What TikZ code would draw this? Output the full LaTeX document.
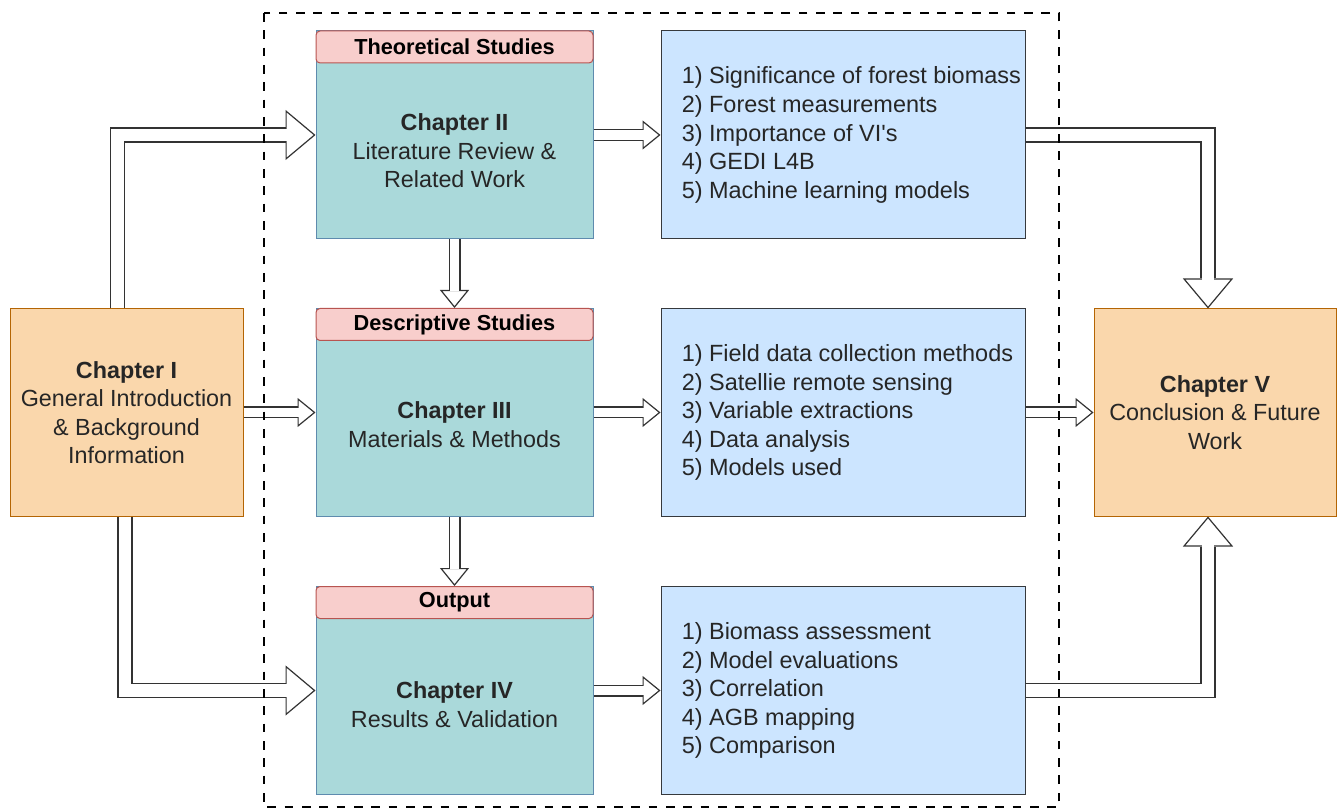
\documentclass[tikz,border=0pt]{standalone}
\usepackage{fontspec}
\setmainfont{Liberation Sans}
\usetikzlibrary{arrows.meta}
\usetikzlibrary{calc}
\usetikzlibrary{positioning}

\definecolor{orfill}{HTML}{FAD7AC}
\definecolor{ordraw}{HTML}{B46504}
\definecolor{tlfill}{HTML}{AAD9DA}
\definecolor{tldraw}{HTML}{5E8BAE}
\definecolor{pkfill}{HTML}{F8CECC}
\definecolor{pkdraw}{HTML}{B85450}
\definecolor{blfill}{HTML}{CCE5FF}
\definecolor{bldraw}{HTML}{36393D}
\definecolor{arr}{HTML}{333333}

\tikzset{
  chap/.style={draw=tldraw,fill=tlfill,line width=.75pt,minimum width=207.75pt,minimum height=156pt},
  hdr/.style={draw=pkdraw,fill=pkfill,line width=.75pt,rounded corners=3pt,minimum width=207.75pt,minimum height=24pt,anchor=north,font=\fontsize{16.3}{19}\selectfont\bfseries},
  side/.style={draw=ordraw,fill=orfill,line width=.75pt,minimum height=155.25pt},
  lst/.style={draw=bldraw,fill=blfill,line width=.75pt,minimum width=273pt,minimum height=156pt},
  txt/.style={align=center,text=black!85,font=\fontsize{17.5}{21.4}\selectfont},
  lsttxt/.style={align=left,anchor=west,inner sep=0pt,text=black!85,font=\fontsize{17.6}{21.4}\selectfont},
  bigflow/.style={draw=arr,line width=.9pt,-{Triangle[open,fill=white,length=22.5pt,width=37.5pt]},
    postaction={draw=arr,line width=11.4pt,arrows=-,shorten >=22.5pt},
    postaction={draw=white,line width=9.6pt,arrows=-,shorten >=21.5pt}},
  flow/.style={draw=arr,line width=.9pt,-{Triangle[open,fill=white,length=13.5pt,width=21.75pt]},
    postaction={draw=arr,line width=9pt,arrows=-,shorten >=13.5pt},
    postaction={draw=white,line width=7.2pt,arrows=-,shorten >=12.5pt}}
}

\begin{document}
\begin{tikzpicture}[x=0.75pt,y=-0.75pt]
\useasboundingbox (0,0) rectangle (1338,812);

% side chapters
\node[side,minimum width=174.75pt] (ch1) at (126.5,412.5) {};
\node[txt] (ch1t) at (ch1.center) {\textbf{Chapter I}\\General Introduction\\\& Background\\Information};
\node[side,minimum width=181.5pt] (ch5) at (1215,412.5) {};
\node[txt] (ch5t) at (ch5.center) {\textbf{Chapter V}\\Conclusion \& Future\\Work};

% middle chapters
\node[chap] (ch2) at (454.5,135) {};
\node[hdr] (h2) at (ch2.north) {Theoretical Studies};
\node[txt] (ch2t) at ($(ch2.center)+(0,16)$) {\textbf{Chapter II}\\Literature Review \&\\Related Work};

\node[chap] (ch3) at (454.5,412.5) {};
\node[hdr] (h3) at (ch3.north) {Descriptive Studies};
\node[txt] (ch3t) at ($(ch3.center)+(0,12)$) {\textbf{Chapter III}\\Materials \& Methods};

\node[chap] (ch4) at (454.5,690.5) {};
\node[hdr] (h4) at (ch4.north) {Output};
\node[txt] (ch4t) at ($(ch4.center)+(0,14)$) {\textbf{Chapter IV}\\Results \& Validation};

% lists
\node[lst] (l1) at (843,135) {};
\node[lsttxt] (l1t) at ($(l1.west)+(21,0)$) {1) Significance of forest biomass\\2) Forest measurements\\3) Importance of VI\textquotesingle s\\4) GEDI L4B\\5) Machine learning models};
\node[lst] (l2) at (843,412.5) {};
\node[lsttxt] (l2t) at ($(l2.west)+(21,0)$) {1) Field data collection methods\\2) Satellie remote sensing\\3) Variable extractions\\4) Data analysis\\5) Models used};
\node[lst] (l3) at (843,690.5) {};
\node[lsttxt] (l3t) at ($(l3.west)+(21,0)$) {1) Biomass assessment\\2) Model evaluations\\3) Correlation\\4) AGB mapping\\5) Comparison};

% arrows
\draw[bigflow] ($(ch1.north)+(-9,0)$) |- (ch2.west);
\draw[flow] (ch1.east) -- (ch3.west);
\draw[bigflow] ($(ch1.south)+(-1.5,0)$) |- (ch4.west);
\draw[flow] (ch2.east) -- (l1.west);
\draw[flow] (ch3.east) -- (l2.west);
\draw[flow] (ch4.east) -- (l3.west);
\draw[flow] (ch2.south) -- (h3.north);
\draw[flow] (ch3.south) -- (h4.north);
\draw[bigflow] (l1.east) -| ($(ch5.north)+(-7,0)$);
\draw[flow] (l2.east) -- (ch5.west);
\draw[bigflow] (l3.east) -| ($(ch5.south)+(-7,0)$);

% frame
\draw[line width=2.2pt,dash pattern=on 6.5pt off 6.5pt] (264,13) rectangle (1059,807);
\end{tikzpicture}
\end{document}
